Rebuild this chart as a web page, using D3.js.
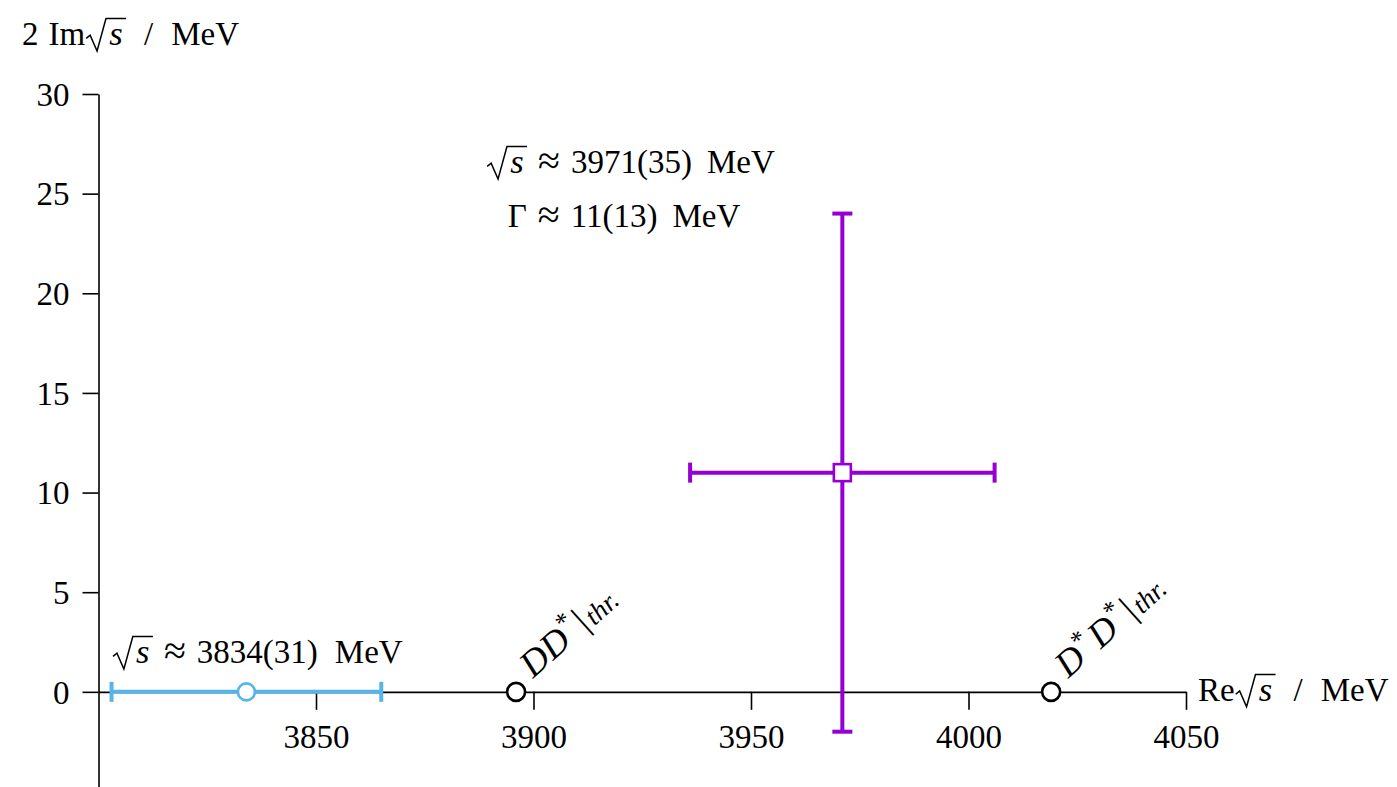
<!DOCTYPE html>
<html>
<head>
<meta charset="utf-8">
<script src="https://cdn.jsdelivr.net/npm/d3@7"></script>
<style>
  html, body { margin: 0; padding: 0; background: #fff; }
  svg text { font-family: "Liberation Serif", "DejaVu Serif", serif; fill: #000; }
</style>
</head>
<body>
<svg id="chart" width="1397" height="787"></svg>
<script>
// Axis ticks
const xTicks = [3850, 3900, 3950, 4000, 4050];
const yTicks = [0, 5, 10, 15, 20, 25, 30];

// Pole positions (MeV): real part, 2*imag part, and uncertainties
const virtualState = { re: 3834, reErr: 31, im: 0 };
const resonance = { re: 3971, reErr: 35, im: 11, imErr: 13 };

// Two-meson thresholds
const thresholdNames = ["DD*", "D*D*"];
const thresholdValues = [3896, 4019];

const BLUE = "#56B4E9";
const PURPLE = "#9400D3";
const FS = 33;

const svg = d3.select("#chart");

const x = d3.scaleLinear().domain([3800, 4050]).range([98.5, 1186]);
const y = d3.scaleLinear().domain([-4.8, 30]).range([787.5, 94]);

// Lays out a run of text pieces left to right; {sqrt:true} draws a radical over "s".
function richText(parent, px, py, pieces, opts = {}) {
  const g = parent.append("g");
  let cx = 0;
  pieces.forEach(p => {
    const fs = p.size || FS;
    cx += p.pre || 0;
    if (p.sqrt) {
      const startX = cx;
      const sx = startX + 0.7 * fs;
      const t = g.append("text").attr("x", sx).attr("y", 0).attr("font-size", fs * 1.05)
        .attr("font-style", "italic").text("s");
      const w = t.node().getComputedTextLength();
      const endX = sx + w + 0.1 * fs;
      g.append("path")
        .attr("d", `M${startX},${-0.2 * fs} L${startX + 0.12 * fs},${-0.3 * fs} L${startX + 0.33 * fs},${0.18 * fs} L${startX + 0.6 * fs},${-0.8 * fs} L${endX},${-0.8 * fs}`)
        .attr("fill", "none").attr("stroke", "#000").attr("stroke-width", 1.5)
        .attr("stroke-linejoin", "miter");
      cx = endX;
    } else {
      const t = g.append("text").attr("x", cx).attr("y", p.dy || 0).attr("font-size", fs)
        .attr("font-style", p.it ? "italic" : "normal").style("white-space", "pre").text(p.t);
      cx += t.node().getComputedTextLength();
    }
    cx += p.gap || 0;
  });
  let ox = px;
  if (opts.anchor === "middle") ox = px - cx / 2;
  g.attr("transform", opts.rotate != null
    ? `translate(${px},${py}) rotate(${opts.rotate})`
    : `translate(${ox},${py})`);
  return g;
}

// "≈" relation with math spacing on both sides
const approx = { t: "≈", size: 40, pre: 11, gap: 11, dy: 1 };

// y axis
const yAxis = svg.append("g")
  .attr("transform", `translate(${x(3800)},0)`)
  .call(d3.axisLeft(y).tickValues(yTicks).tickFormat(d3.format("d"))
    .tickSize(16).tickSizeOuter(0).tickPadding(13));
yAxis.select(".domain").attr("stroke", "#000").attr("stroke-width", 1.6);
yAxis.selectAll(".tick line").attr("stroke", "#000").attr("stroke-width", 1.6);
yAxis.selectAll(".tick text").attr("font-size", FS).attr("font-family", null).attr("dy", "0.34em");

// x axis
const xAxis = svg.append("g")
  .attr("transform", `translate(0,${y(0)})`)
  .call(d3.axisBottom(x).tickValues(xTicks).tickFormat(d3.format("d"))
    .tickSize(18).tickSizeOuter(0).tickPadding(10));
xAxis.select(".domain").attr("stroke", "#000").attr("stroke-width", 1.6);
xAxis.selectAll(".tick line").attr("stroke", "#000").attr("stroke-width", 1.6);
xAxis.selectAll(".tick text").attr("font-size", FS).attr("font-family", null).attr("dy", "0.85em");

// axis titles
richText(svg, 22, 45, [{ t: "2", gap: 10 }, { t: "Im", gap: 1 }, { sqrt: true, gap: 18 }, { t: "/", gap: 18 }, { t: "MeV" }]);
richText(svg, 1198, y(0) + 9, [{ t: "Re", gap: 1 }, { sqrt: true, gap: 18 }, { t: "/", gap: 18 }, { t: "MeV" }]);

// virtual state: horizontal error bar on the real axis
const vb = svg.append("g").attr("stroke", BLUE).attr("stroke-width", 4);
vb.append("line")
  .attr("x1", x(virtualState.re - virtualState.reErr)).attr("x2", x(virtualState.re + virtualState.reErr))
  .attr("y1", y(virtualState.im)).attr("y2", y(virtualState.im));
[virtualState.re - virtualState.reErr, virtualState.re + virtualState.reErr].forEach(v => {
  vb.append("line").attr("x1", x(v)).attr("x2", x(v))
    .attr("y1", y(virtualState.im) - 10).attr("y2", y(virtualState.im) + 10);
});
svg.append("circle").attr("cx", x(virtualState.re)).attr("cy", y(virtualState.im)).attr("r", 8.5)
  .attr("fill", "#fff").attr("stroke", BLUE).attr("stroke-width", 2.6);

richText(svg, 113, 663, [{ sqrt: true }, approx, { t: "3834(31)", gap: 17 }, { t: "MeV" }]);

// thresholds
thresholdValues.forEach((t, i) => {
  svg.append("circle").attr("cx", x(t)).attr("cy", y(0)).attr("r", 9)
    .attr("fill", "#fff").attr("stroke", "#000").attr("stroke-width", 2.6);
  const pieces = [];
  const parts = thresholdNames[i].split("*");
  parts.forEach((p, j) => {
    if (p.length) pieces.push({ t: p, it: true, size: 37, gap: 1 });
    if (j < parts.length - 1) pieces.push({ t: "*", size: 26, dy: -14, gap: 3 });
  });
  pieces.push({ t: "|", size: 37, gap: 3 });
  pieces.push({ t: "thr.", it: true, size: 27, dy: 2 });
  richText(svg, x(t) + 17, y(0) - 13, pieces, { rotate: -42 });
});

// resonance pole with error bars
const rb = svg.append("g").attr("stroke", PURPLE).attr("stroke-width", 4);
const rx = x(resonance.re), ry = y(resonance.im);
rb.append("line").attr("x1", x(resonance.re - resonance.reErr)).attr("x2", x(resonance.re + resonance.reErr))
  .attr("y1", ry).attr("y2", ry);
[resonance.re - resonance.reErr, resonance.re + resonance.reErr].forEach(v => {
  rb.append("line").attr("x1", x(v)).attr("x2", x(v)).attr("y1", ry - 10).attr("y2", ry + 10);
});
rb.append("line").attr("x1", rx).attr("x2", rx)
  .attr("y1", y(resonance.im - resonance.imErr)).attr("y2", y(resonance.im + resonance.imErr));
[resonance.im - resonance.imErr, resonance.im + resonance.imErr].forEach(v => {
  rb.append("line").attr("x1", rx - 10).attr("x2", rx + 10).attr("y1", y(v)).attr("y2", y(v));
});
svg.append("rect").attr("x", rx - 8.5).attr("y", ry - 8.5).attr("width", 17).attr("height", 17)
  .attr("fill", "#fff").attr("stroke", PURPLE).attr("stroke-width", 2.6);

richText(svg, 631, 173, [{ sqrt: true }, approx, { t: "3971(35)", gap: 15 }, { t: "MeV" }], { anchor: "middle" });
richText(svg, 624, 227, [{ t: "Γ" }, approx, { t: "11(13)", gap: 15 }, { t: "MeV" }], { anchor: "middle" });
</script>
</body>
</html>
